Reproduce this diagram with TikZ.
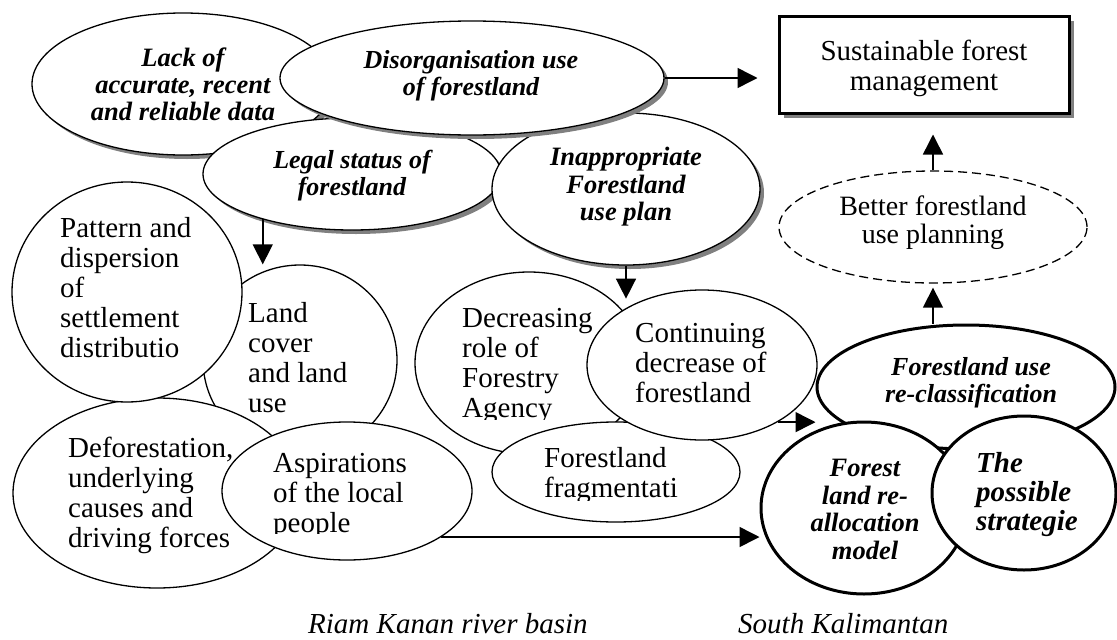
\documentclass[tikz,border=0pt]{standalone}
\usepackage{fontspec}
\setmainfont{Liberation Serif}
\usetikzlibrary{shapes.geometric,shadows,arrows.meta}

\tikzset{
  blob/.style={ellipse, draw=black, fill=white, line width=1.3pt, inner sep=0pt},
  heavy/.style={blob, line width=3pt},
  shade/.style={drop shadow={shadow xshift=4pt, shadow yshift=-4pt, fill=black!50, opacity=1}},
  hint/.style={blob, dash pattern=on 9pt off 5pt},
  goalbox/.style={rectangle, draw=black, fill=white, line width=3pt, inner sep=0pt,
    drop shadow={shadow xshift=5pt, shadow yshift=-5pt, fill=black!50, opacity=1}},
  link/.style={line width=1.5pt, -{Triangle[length=20pt,width=20pt]}},
  issue/.style={inner sep=0pt, align=center, font=\fontsize{26.5}{26.8}\selectfont\bfseries\itshape},
  plain/.style={inner sep=0pt, align=left, font=\fontsize{29}{30}\selectfont},
  place/.style={inner sep=0pt, font=\fontsize{29}{30}\selectfont\itshape},
}

\begin{document}
\begin{tikzpicture}[x=1pt, y=1pt]
\clip (0,0) rectangle (1117,-640);
\fill[white] (0,0) rectangle (1117,-640);

% problem cluster, top left
\node[blob, shade, minimum width=302pt, minimum height=142pt] (lack)  at (183,-84)  {};
\node[blob, shade, minimum width=298pt, minimum height=112pt] (legal) at (352,-174) {};
\node[blob, shade, minimum width=268pt, minimum height=152pt] (inapp) at (626,-189) {};
\node[blob, shade, minimum width=384pt, minimum height=114pt] (disorg) at (472,-78) {};

% goal and planning
\node[goalbox, minimum width=290pt, minimum height=97pt] (goal) at (924,-64.5) {};
\node[hint, minimum width=308pt, minimum height=112pt] (better) at (933,-227) {};

% land and people
\node[blob, minimum width=194pt, minimum height=190pt] (land)   at (300,-360) {};
\node[blob, minimum width=288pt, minimum height=190pt] (defor)  at (157,-493) {};
\node[blob, minimum width=230pt, minimum height=220pt] (pattern) at (127,-292) {};
\node[blob, minimum width=250pt, minimum height=138pt] (asp)    at (347,-491) {};

% forestland decline
\node[blob, minimum width=228pt, minimum height=182pt] (decr)  at (529,-363) {};
\node[blob, minimum width=248pt, minimum height=100pt] (frag)  at (616,-472) {};
\node[blob, minimum width=230pt, minimum height=150pt] (cont)  at (702,-365) {};

% strategy cluster
\node[heavy, minimum width=298pt, minimum height=124pt] (reclass) at (966,-387) {};
\node[heavy, minimum width=206pt, minimum height=172pt] (forest)  at (864,-508) {};
\node[heavy, minimum width=184pt, minimum height=154pt] (strat)   at (1024,-493) {};

% connectors
\draw[link, shorten >=20pt] (disorg.east) -- (disorg.east -| goal.west);
\draw[link] (legal.207) -- (legal.207 |- land.north);
\draw[link] (inapp.south) -- ++(0,-33);
\draw[link, shorten >=20pt] (better.north) -- (better.north |- goal.south);
\draw[link, shorten >=4pt] (better.south |- reclass.north) -- (better.south);
\draw[link] (cont.-37) -- (cont.-37 -| reclass.west);
\draw[link] (asp.-26) -- (asp.-26 -| forest.west);

% labels
\node[issue, anchor=north] (tlack) at (183,-48) {Lack of\\accurate, recent\\and reliable data};
\node[issue, anchor=north, font=\fontsize{26}{27}\selectfont\bfseries\itshape] (tdisorg) at (471,-50) {Disorganisation use\\of forestland};
\node[issue, anchor=north, font=\fontsize{26}{27}\selectfont\bfseries\itshape] (tlegal) at (352,-150) {Legal status of\\forestland};
\node[issue, anchor=north, font=\fontsize{26.5}{27.5}\selectfont\bfseries\itshape] (tinapp) at (626,-147) {Inappropriate\\Forestland\\use plan};

\node[plain, align=center, anchor=north] (tgoal) at (924,-40) {Sustainable forest\\management};
\node[plain, align=center, anchor=north, font=\fontsize{28}{27.5}\selectfont] (tbetter) at (933,-196) {Better forestland\\use planning};

\node[plain, anchor=north west] (tpattern) at (60,-217) {Pattern and\\dispersion\\of\\settlement\\distributio};
\node[plain, anchor=north west] (tland) at (248,-302) {Land\\cover\\and land\\use};
\node[plain, anchor=north west] (tdefor) at (68,-437) {Deforestation,\\underlying\\causes and\\driving forces};
\begin{scope}
  \clip (200,-420) rectangle (480,-533);
  \node[plain, anchor=north west] (tasp) at (273,-453) {Aspirations\\of the local\\people};
\end{scope}

\begin{scope}
  \clip (400,-280) rectangle (620,-419);
  \node[plain, anchor=north west] (tdecr) at (462,-308) {Decreasing\\role of\\Forestry\\Agency};
\end{scope}
\node[plain, anchor=north west] (tcont) at (635,-323) {Continuing\\decrease of\\forestland};
\begin{scope}
  \clip (500,-430) rectangle (740,-500);
  \node[plain, anchor=north west] (tfrag) at (544,-447) {Forestland\\fragmentati};
\end{scope}

\node[issue, anchor=north, font=\fontsize{26}{27}\selectfont\bfseries\itshape] (treclass) at (971,-357) {Forestland use\\re-classification};
\node[issue, anchor=north, font=\fontsize{26.5}{27.7}\selectfont\bfseries\itshape] (tforest) at (865,-459) {Forest\\land re-\\allocation\\model};
\node[issue, align=left, anchor=north west, font=\fontsize{29}{29}\selectfont\bfseries\itshape] (tstrat) at (976,-452) {The\\possible\\strategie};

\node[place, anchor=base west] (riam) at (308,-633) {Riam Kanan river basin};
\node[place, anchor=base west] (kalsel) at (738,-633) {South Kalimantan};
\end{tikzpicture}
\end{document}
